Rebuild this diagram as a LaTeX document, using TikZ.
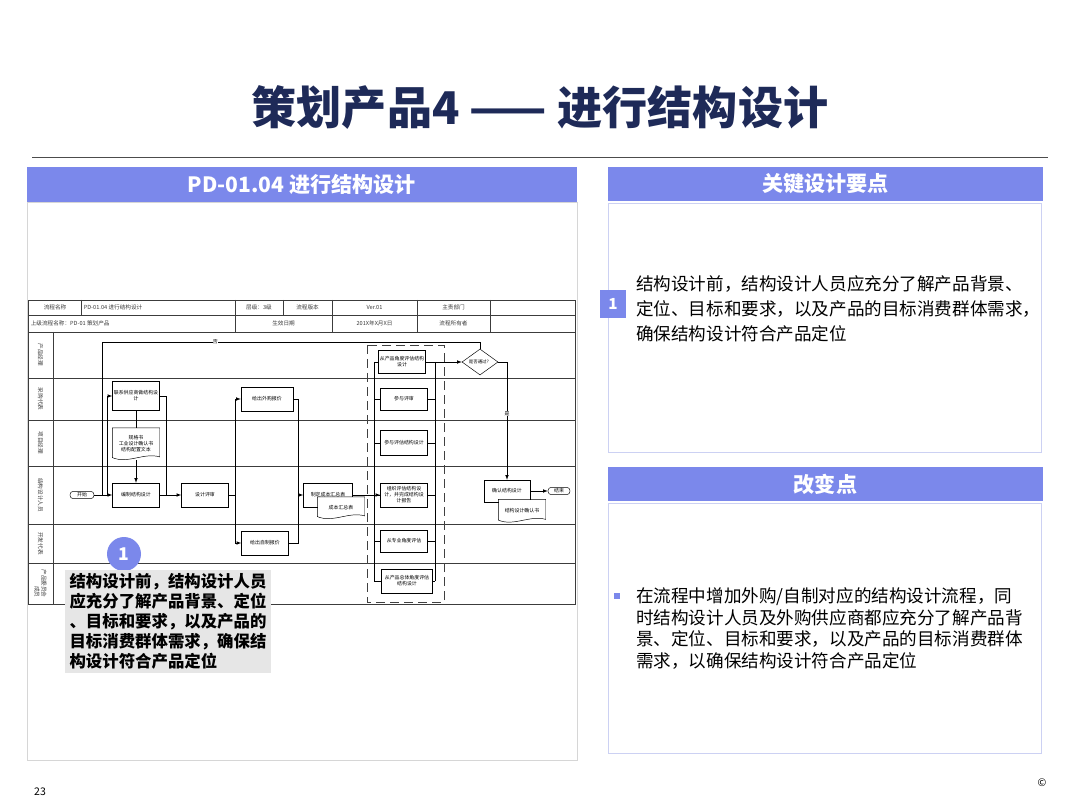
\documentclass[tikz,border=0pt]{standalone}
\usepackage{fontspec}
\setmainfont{Noto Sans CJK SC}
\usetikzlibrary{positioning,shapes.geometric}

\definecolor{titlenavy}{RGB}{30,42,88}
\definecolor{headblue}{RGB}{123,136,235}
\definecolor{frameblue}{RGB}{204,209,243}
\definecolor{framegray}{RGB}{214,214,214}
\definecolor{notegray}{RGB}{230,230,230}
\definecolor{tabgray}{RGB}{60,60,60}

\newcommand\flowfont{\fontsize{4.2}{5.2}\selectfont}
\newcommand\tabfont{\fontsize{4.8}{5.8}\selectfont}
% wavy outline of a document node
\newcommand\docline[1]{%
  \draw[line width=0.4pt] (#1.north west) -- (#1.north east)
    -- ([yshift=1mm]#1.south east)
    .. controls ([xshift=-4.7mm,yshift=2.4mm]#1.south east)
    and ([xshift=4.7mm,yshift=-1.2mm]#1.south west)
    .. ([yshift=0.8mm]#1.south west) -- cycle;}

\tikzset{
  flow/.style={line width=0.4pt},
  tabline/.style={line width=0.5pt, tabgray},
  fbox/.style={draw, fill=white, line width=0.4pt, align=center, inner sep=0.5pt,
    font=\flowfont, minimum width=14.1mm, minimum height=7.2mm},
  docbox/.style={fill=white, align=center, inner sep=0.5pt, font=\flowfont,
    minimum width=14.1mm},
  term/.style={draw, fill=white, rounded corners=1mm, line width=0.4pt,
    font=\flowfont, inner sep=0.3pt, minimum height=2.2mm},
  yesno/.style={fill=white, font=\flowfont, inner sep=0.3pt},
  tabtxt/.style={font=\tabfont, text=tabgray, inner sep=0.5pt},
  lanetxt/.style={rotate=-90, font=\tabfont, text=tabgray, align=right, inner sep=0pt},
  headbar/.style={fill=headblue, text=white, font=\fontsize{18}{20}\selectfont\bfseries,
    inner sep=0pt, minimum height=10.4mm}
}

\begin{document}
\begin{tikzpicture}[x=0.3mm, y=-0.3mm]
\useasboundingbox (0,0) rectangle (1080,810);
\fill[white] (0,0) rectangle (1080,810);

% title
\node[font=\fontsize{38.5}{40}\selectfont\bfseries, text=titlenavy] (title) at (540,107) {策划产品4 —— 进行结构设计};
\draw[line width=0.6pt, gray!60!black] (32,157) -- (1048,157);

% panels
\draw[framegray, line width=0.6pt] (27,202) rectangle (577,760);
\node[headbar, minimum width=165mm] (lefthead) at (302,184.5) {PD-01.04 进行结构设计};
\node[headbar, minimum width=130.5mm] (keyhead) at (825.5,184) {关键设计要点};
\draw[frameblue, line width=0.8pt] (608,203) rectangle (1041,452);
\node[headbar, minimum width=130.5mm] (chghead) at (825.5,484) {改变点};
\draw[frameblue, line width=0.8pt] (608,503) rectangle (1041,753);

\node[fill=headblue, text=white, minimum width=7.8mm, minimum height=8.4mm, inner sep=0pt,
  font=\fontsize{13}{13}\selectfont\bfseries] (num1) at (613,304) {1};
\node[anchor=west, align=left, inner sep=0pt, font=\fontsize{15}{21.25}\selectfont] (keytext) at (636,309)
  {结构设计前，结构设计人员应充分了解产品背景、\\定位、目标和要求，以及产品的目标消费群体需求，\\确保结构设计符合产品定位};
\node[fill=headblue, minimum size=1.8mm, inner sep=0pt] (bullet) at (617,596) {};
\node[anchor=west, align=left, inner sep=0pt, font=\fontsize{15}{18.4}\selectfont] (chgtext) at (636,628.5)
  {在流程中增加外购/自制对应的结构设计流程，同\\时结构设计人员及外购供应商都应充分了解产品背\\景、定位、目标和要求，以及产品的目标消费群体\\需求，以确保结构设计符合产品定位};

% process table
\draw[tabline] (28,300) rectangle (575,604);
\foreach \y in {315,332,378,420,466,524,563}
  \draw[tabline] (28,\y) -- (575,\y);
\foreach \x in {81,283}
  \draw[tabline] (\x,300) -- (\x,315);
\foreach \x in {235,332,417,490}
  \draw[tabline] (\x,300) -- (\x,332);
\draw[tabline] (53,332) -- (53,604);

\node[tabtxt] (hname) at (55,307.5) {流程名称};
\node[tabtxt, anchor=west] (hproc) at (83,307.5) {PD-01.04 进行结构设计};
\node[tabtxt] (hlevel) at (259,307.5) {层级：3级};
\node[tabtxt] (hver) at (307.5,307.5) {流程版本};
\node[tabtxt] (hvernum) at (374.5,307.5) {Ver.01};
\node[tabtxt] (hdept) at (453.5,307.5) {主责部门};
\node[tabtxt, anchor=west] (hparent) at (30,323.5) {上级流程名称：PD-01 策划产品};
\node[tabtxt] (hdate) at (283.5,323.5) {生效日期};
\node[tabtxt] (hdatev) at (374.5,323.5) {201X年X月X日};
\node[tabtxt] (howner) at (453.5,323.5) {流程所有者};

\foreach \y/\t [count=\i] in {355/产品经理, 399/采购代表, 443/项目经理,
    495/结构设计人员, 543.5/开发代表, 583.5/{产品委员会\\成员}}
  \node[lanetxt] (lane\i) at (40.5,\y) {\t};

% flow nodes
\node[term, minimum width=7.2mm] (start) at (82,495) {开始};
\node[fbox] (design) at (136,495) {编制结构设计};
\node[fbox] (review) at (205,495) {设计评审};
\node[fbox, minimum height=8.6mm] (supplier) at (136,396) {联系供应商做结构设\\计};
\node[docbox, minimum height=9.6mm] (spec) at (136,444) {规格书\\工业设计确认书\\结构配置文本};
\docline{spec}
\node[fbox, minimum width=15.6mm] (buyquote) at (267,399) {给出外购报价};
\node[fbox] (makequote) at (265,543) {给出自制报价};
\node[fbox, minimum width=14.7mm] (costtab) at (328,495) {制定成本汇总表};
\node[docbox, minimum height=6.6mm] (costdoc) at (341,508) {成本汇总表};
\docline{costdoc}

\draw[line width=0.6pt, gray!50!black, dash pattern=on 2.8mm off 1.4mm] (367,345) rectangle (444,602);
\node[fbox, minimum height=6.9mm] (ev1) at (402,362) {从产品角度评估结构\\设计};
\node[fbox, minimum height=6.6mm] (ev2) at (404,399) {参与评审};
\node[fbox, minimum height=7.5mm] (ev3) at (404,443) {参与评估结构设计};
\node[fbox] (ev4) at (404,495) {组织评估结构设\\计，并完成结构设\\计报告};
\node[fbox, minimum height=6.6mm] (ev5) at (404,541) {从专业角度评估};
\node[fbox, minimum width=15.3mm] (ev6) at (407,581) {从产品总体角度评估\\结构设计};

\node[draw, diamond, aspect=1.4, fill=white, line width=0.4pt, inner sep=0pt,
  minimum width=10.8mm, minimum height=7.8mm, font=\fontsize{3.8}{4.5}\selectfont] (check) at (480,362) {是否通过？};
\node[fbox, minimum width=13.8mm, minimum height=6.6mm] (confirm) at (507,491) {确认结构设计};
\node[docbox, minimum height=6.9mm] (confdoc) at (522,511) {结构设计确认书};
\docline{confdoc}
\node[term, minimum width=6.6mm] (finish) at (559,491) {结束};

% junctions
\coordinate (j0) at (102,495);
\coordinate (j1) at (107,495);
\coordinate (j2) at (166,495);
\coordinate (j3) at (235,495);
\coordinate (j4) at (298,495);
\coordinate (noturn) at (102,342);
\coordinate (lbtop) at (374,362);
\coordinate (lbbot) at (374,581);
\coordinate (rbtop) at (435,362);
\coordinate (rbbot) at (435,581);

% connectors
\draw[flow, -latex] (start) -- (design);
\draw[flow] (check.north) |- node[yesno, pos=0.85] {否} (noturn) -- (j0);
\draw[flow, -latex] (j1) |- (supplier);
\draw[flow] (supplier) -- (spec);
\draw[flow, -latex] (spec) -- (design);
\draw[flow] (supplier.east) -| (j2);
\draw[flow, -latex] (design) -- (review);
\draw[flow] (review) -- (j3);
\draw[flow, -latex] (j3) |- (buyquote);
\draw[flow, -latex] (j3) |- (makequote);
\draw[flow] (buyquote) -| (j4);
\draw[flow] (makequote) -| (j4);
\draw[flow, -latex] (j4) -- (costtab);
\draw[flow, -latex] (costtab) -- (ev4);
\draw[flow] (lbtop) -- (lbbot);
\draw[flow] (rbtop) -- (rbbot);
\foreach \n in {ev1,ev2,ev3,ev4,ev5,ev6} {
  \draw[flow] (\n.west) -- (\n.west -| lbtop);
  \draw[flow] (\n.east) -- (\n.east -| rbtop);
}
\draw[flow, -latex] (ev1) -- (check);
\draw[flow, -latex] (check.east) -| node[yesno, pos=0.72] {是} (confirm.north);
\draw[flow, -latex] (confirm) -- (finish);

% callout
\node[circle, fill=headblue, text=white, minimum size=10.2mm, inner sep=0pt,
  font=\fontsize{15}{15}\selectfont\bfseries] (mark1) at (124,554) {1};
\node[fill=notegray, minimum width=61.8mm, minimum height=30.9mm, inner sep=0pt, align=left,
  font=\fontsize{14}{17}\selectfont\bfseries] (note) at (168,621.5)
  {结构设计前，结构设计人员\\应充分了解产品背景、定位\\、目标和要求，以及产品的\\目标消费群体需求，确保结\\构设计符合产品定位};

\node[font=\fontsize{9}{9}\selectfont] (pgnum) at (40,792) {23};
\node[font=\fontsize{9}{9}\selectfont] (copymark) at (1042,783) {©};
\end{tikzpicture}
\end{document}
